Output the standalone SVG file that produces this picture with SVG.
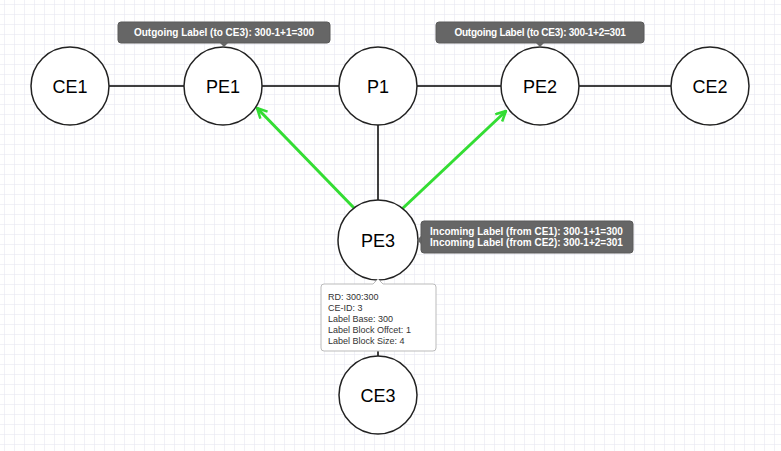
<svg xmlns="http://www.w3.org/2000/svg" width="781" height="451" viewBox="0 0 781 451">
<defs>
<pattern id="grid" width="10" height="10" patternUnits="userSpaceOnUse" x="4" y="4">
<path d="M10 0H0V10" fill="none" stroke="#e4e4f0" stroke-width="1"/>
</pattern>
<marker id="arr" viewBox="0 0 12 12" refX="11" refY="6" markerWidth="12" markerHeight="12" markerUnits="userSpaceOnUse" orient="auto">
<path d="M1 1L11 6L1 11" fill="none" stroke="#33dd33" stroke-width="2.5"/>
</marker>
<style>
.node circle{fill:#fff;stroke:#222;stroke-width:1.5}
.node text{font-family:"Liberation Sans",Arial,sans-serif;font-size:18px;fill:#000;text-anchor:middle}
.link{stroke:#000;stroke-width:1.5;fill:none}
.green{stroke:#33dd33;stroke-width:3;fill:none}
.tip{fill:#666;stroke:#5a5a5a;stroke-width:1}
.tipt{font-family:"Liberation Sans",Arial,sans-serif;font-size:10px;font-weight:bold;fill:#fff}
.info{fill:#fff;stroke:#bbb;stroke-width:1}
.infot{font-family:"Liberation Sans",Arial,sans-serif;font-size:9px;fill:#333}
</style>
</defs>
<rect width="781" height="451" fill="#fff"/>
<rect width="781" height="451" fill="url(#grid)"/>
<g id="connectors">
<line class="link" x1="109" y1="86" x2="184" y2="86"/>
<line class="link" x1="262" y1="86" x2="339" y2="86"/>
<line class="link" x1="417" y1="86" x2="501" y2="86"/>
<line class="link" x1="579" y1="86" x2="671" y2="86"/>
<line class="link" x1="378" y1="125" x2="378" y2="201"/>
<line class="green" x1="355" y1="209" x2="257" y2="108" marker-end="url(#arr)"/>
<line class="green" x1="402" y1="209" x2="506" y2="111" marker-end="url(#arr)"/>
<line class="link" x1="378" y1="351" x2="378" y2="356"/>
</g>
<g id="CE1" class="node"><circle cx="70" cy="86" r="39"/><text x="70" y="93">CE1</text></g>
<g id="PE1" class="node"><circle cx="223" cy="86" r="39"/><text x="223" y="93">PE1</text></g>
<g id="P1" class="node"><circle cx="378" cy="86" r="39"/><text x="378" y="93">P1</text></g>
<g id="PE2" class="node"><circle cx="540" cy="86" r="39"/><text x="540" y="93">PE2</text></g>
<g id="CE2" class="node"><circle cx="710" cy="86" r="39"/><text x="710" y="93">CE2</text></g>
<g id="PE3" class="node"><circle cx="378" cy="240" r="40"/><text x="378" y="247">PE3</text></g>
<g id="CE3" class="node"><circle cx="378" cy="395" r="39"/><text x="378" y="402">CE3</text></g>
<g id="label-pe1">
<rect class="tip" x="118" y="22" width="212" height="21" rx="3"/>
<path d="M220 43L224 47L228 43Z" fill="#666"/>
<text class="tipt" x="224" y="36" text-anchor="middle">Outgoing Label (to CE3): 300-1+1=300</text>
</g>
<g id="label-pe2">
<rect class="tip" x="436" y="22" width="208" height="21" rx="3"/>
<path d="M536 43L540 47L544 43Z" fill="#666"/>
<text class="tipt" x="540" y="36" text-anchor="middle" letter-spacing="-0.25">Outgoing Label (to CE3): 300-1+2=301</text>
</g>
<g id="label-pe3">
<rect class="tip" x="421" y="221" width="212" height="32" rx="3"/>
<path d="M421 236L417 240L421 244Z" fill="#666"/>
<text class="tipt" x="430" y="235">Incoming Label (from CE1): 300-1+1=300</text>
<text class="tipt" x="430" y="246">Incoming Label (from CE2): 300-1+2=301</text>
</g>
<g id="info-pe3">
<path class="info" d="M324 284H373L378 279L383 284H433Q436 284 436 287V348Q436 351 433 351H324Q321 351 321 348V287Q321 284 324 284Z"/>
<text class="infot" x="328" y="300">RD: 300:300</text>
<text class="infot" x="328" y="311">CE-ID: 3</text>
<text class="infot" x="328" y="322">Label Base: 300</text>
<text class="infot" x="328" y="333">Label Block Offcet: 1</text>
<text class="infot" x="328" y="344">Label Block Size: 4</text>
</g>
</svg>
